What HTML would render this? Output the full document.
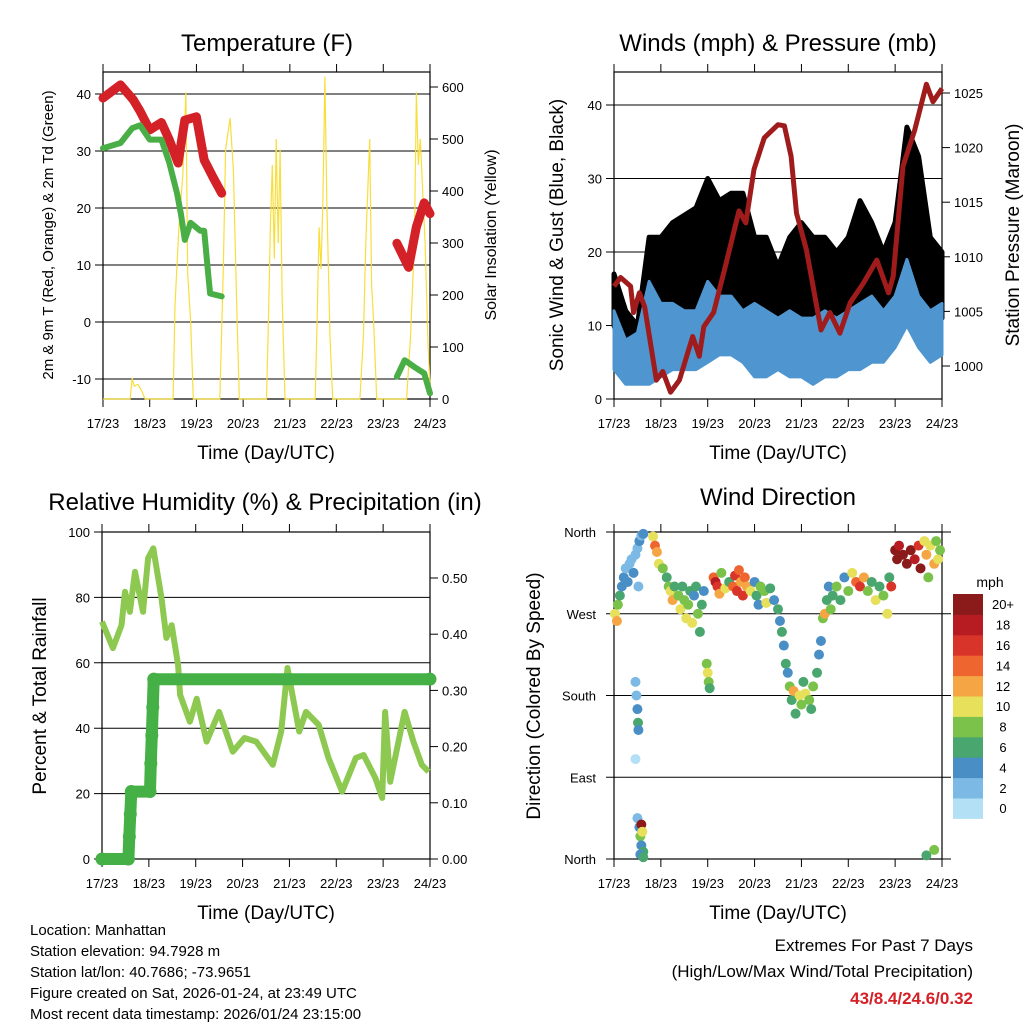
<!DOCTYPE html>
<html><head><meta charset="utf-8"><style>
html,body{margin:0;padding:0;background:#fff;}
svg{display:block;font-family:"Liberation Sans",Arial,sans-serif;}
</style></head><body>
<svg id="c" width="1024" height="1024" viewBox="0 0 1024 1024" xmlns="http://www.w3.org/2000/svg">
<rect width="1024" height="1024" fill="#fff"/>
<g id="layer"></g>
<text x="267" y="51" font-size="24" text-anchor="middle">Temperature (F)</text>
<text x="778" y="51" font-size="24" text-anchor="middle">Winds (mph) &amp; Pressure (mb)</text>
<text x="265" y="510" font-size="24" text-anchor="middle">Relative Humidity (%) &amp; Precipitation (in)</text>
<text x="778" y="505" font-size="24" text-anchor="middle">Wind Direction</text>
<text x="266" y="459" font-size="19" text-anchor="middle">Time (Day/UTC)</text>
<text x="778" y="459" font-size="19" text-anchor="middle">Time (Day/UTC)</text>
<text x="266" y="919" font-size="19" text-anchor="middle">Time (Day/UTC)</text>
<text x="778" y="919" font-size="19" text-anchor="middle">Time (Day/UTC)</text>
<text transform="translate(53,235) rotate(-90)" font-size="15" text-anchor="middle">2m &amp; 9m T (Red, Orange) &amp; 2m Td (Green)</text>
<text transform="translate(496,235) rotate(-90)" font-size="16" text-anchor="middle">Solar Insolation (Yellow)</text>
<text transform="translate(563,235) rotate(-90)" font-size="19" text-anchor="middle">Sonic Wind &amp; Gust (Blue, Black)</text>
<text transform="translate(1019,235) rotate(-90)" font-size="19" text-anchor="middle">Station Pressure (Maroon)</text>
<text transform="translate(46,696) rotate(-90)" font-size="19" text-anchor="middle">Percent &amp; Total Rainfall</text>
<text transform="translate(540,696) rotate(-90)" font-size="19" text-anchor="middle">Direction (Colored By Speed)</text>
<text x="990" y="587" font-size="14" text-anchor="middle">mph</text>
<g font-size="15">
<text x="30" y="935">Location: Manhattan</text>
<text x="30" y="956">Station elevation: 94.7928 m</text>
<text x="30" y="977">Station lat/lon: 40.7686; -73.9651</text>
<text x="30" y="998">Figure created on Sat, 2026-01-24, at 23:49 UTC</text>
<text x="30" y="1019">Most recent data timestamp: 2026/01/24 23:15:00</text>
</g>
<g font-size="17" text-anchor="end">
<text x="973" y="951">Extremes For Past 7 Days</text>
<text x="973" y="977">(High/Low/Max Wind/Total Precipitation)</text>
<text x="973" y="1004" fill="#d42027" font-weight="bold">43/8.4/24.6/0.32</text>
</g>
</svg>
<script>
const dayLabels=["17/23","18/23","19/23","20/23","21/23","22/23","23/23","24/23"];
const tempHours=[0,9,15.5,19,24,30,34,38.6,42,48,52,56.5,61,null,151,157,161,165,168];
const tempF=[39.3,41.6,39,37,33.7,35,32,27.9,35.4,36,28.4,25.4,22.6,null,13.8,9.6,16.7,20.9,19];
const dewHours=[0,9,15,19,24,30,34,38,40,42,45,50,52,54,55,61,null,151,155,160,165,168];
const dewF=[30.5,31.4,34,34.5,32,32,28,22.6,19,14.4,17.4,16,16,8.6,5,4.5,null,-9.6,-6.7,-7.9,-9,-12.5];
const solarHours=[0,12,13.9,15,16,18,20,21.6,23,34,36,37,39,41,42.6,43.5,45,46.4,48,59,60,61.8,63,65.3,67,68.7,70,82,84,85,86,87,88,89,90,91,92,93.5,95,107,109,110,111,112,113,114,115,116.6,118,131,132,133.8,135,137,138,139,140.6,142,155,156,158,160,161,162,163,165.5,167,168];
const solarW=[0,0,0,40,25,28,15,0,0,0,0,180,330,430,590,240,150,0,0,0,0,250,480,540,440,180,0,0,0,150,330,450,270,500,300,480,200,0,0,0,0,150,330,250,380,620,380,120,0,0,0,120,300,500,220,150,0,0,0,0,120,300,590,450,500,300,100,30,0];
const presHours=[0,3.4,8.5,10,13,15.7,21.7,25,29,33.5,40.3,43.7,46,51,57,64,67.5,71.7,77,84,87.3,90.7,93.5,98.6,106,110.6,115.7,121,127.8,134.6,140.6,143,148,154,160,163.4,168];
const presMb=[1007.3,1008.1,1007.3,1004.9,1006.7,1005.4,998.7,999.5,997.6,998.7,1002.7,1000.9,1003.6,1004.9,1009.1,1014.2,1013.1,1018,1020.9,1022.1,1022,1019.2,1014,1010.6,1003.3,1004.9,1003,1005.8,1007.6,1009.7,1006.7,1008.2,1018.3,1021.6,1025.8,1024.2,1025.4];
const bandHours=[0,6,12,18,24,30,36,42,48,54,60,66,72,78,84,90,96,102,108,114,120,126,132,138,144,150,156,162,168];
const windLow=[4,2,2,2,3,4,4,4,5,6,6,5,3,3,4,3,3,2,3,3,4,4,5,5,7,10,7,5,6];
const windHigh=[12,8,9,16,13,13,12,12,16,14,14,12,13,12,11,12,11,11,12,11,12,13,14,12,14,19,14,12,13];
const gustLow=[10,5,4,8,11,10,11,11,12,12,11,10,9,9,9,10,11,10,9,9,9,10,10,10,12,18,15,12,11];
const gustHigh=[17,12,10,22,22,24,25,26,30,27,28,28,22,22,18,22,24,22,22,20,22,27,24,20,24,37,33,22,20];
const rhHours=[0,5.6,10,11.8,14.3,16.9,21,23.6,26.3,30.5,33,35.7,39,40,45,48.5,53.6,60,67,73,79,87.5,91.8,95,101,104.5,111,116,123,130,134,140,143.5,145,147.6,155,159.5,163.8,167.3];
const rhPct=[72.6,64.5,71.5,81.7,75.6,87.8,75.6,92,95,79.8,67.6,71.5,59.3,50.2,42,49,35.9,45,32.8,37,35.9,28.8,39,58.4,39,45,41,30.9,20.6,30.9,31.8,24.8,18.7,45,23.6,45,35.9,28.8,26.7];
const rainHours=[0,13.5,14,14.5,15,24.6,25,25.5,26,26.5,168];
const rainIn=[0,0,0.04,0.08,0.12,0.12,0.17,0.22,0.27,0.32,0.32];
const dirHours=[0.5,1.5,2,3,4,5,6,7,8,9,10,11,12,12.5,13,14,15,11,11.5,12,12.3,12.5,11,12,13,13.5,14,14.5,14,15,13.5,15,20,21,22,23,25,27,28,29,30,31,33,34,35,36,37,38,39,40,41,42,43,44,45,46,47.5,48,48.5,49,51,52,53,54,55,57,59,61,62,63,64,65,66,67,68,70,72,73,74,75,77,78,80,82,84,85,86,87,88,89,90,91,92,93,95,96,97,98,100,101,102,104,105,106,107,108,109,110,111,112,114,116,118,120,122,124,126,128,130,132,134,136,138,140,141,142,144,145,146,148,150,152,154,156,157,159,160,161,162,164,165,166,167,160,164];
const dirDeg=[270,262,280,290,300,310,320,305,325,330,315,335,342,300,350,356,358,195,180,165,150,142,110,45,35,25,38,30,15,8,5,2,355,345,338,325,320,310,300,295,285,300,290,275,300,285,265,280,295,260,290,300,270,250,280,295,215,205,195,188,310,305,300,292,315,298,305,300,312,295,318,305,290,310,300,295,305,290,280,300,295,282,298,285,275,262,250,235,215,205,190,175,185,160,180,170,195,182,175,165,190,205,225,240,265,270,285,300,275,290,300,285,310,295,315,305,300,310,295,305,285,300,290,270,310,300,340,330,345,335,325,340,330,345,320,350,335,310,345,325,350,330,340,4,10];
const dirSpd=[10,12,8,6,4,4,3,4,2,3,4,2,2,2,4,3,4,2,3,4,6,4,1,2,4,8,20,10,4,6,4,6,10,14,12,10,8,6,8,10,12,6,8,10,6,8,10,8,6,10,4,6,8,6,6,4,8,10,8,6,14,18,16,12,8,10,6,14,16,16,14,12,16,14,12,10,4,6,4,8,8,10,6,4,6,4,6,4,6,4,8,6,12,6,10,8,6,10,8,6,8,6,4,4,8,12,6,4,8,6,8,6,4,8,10,14,16,12,8,6,10,6,8,10,6,16,20,22,18,22,20,22,18,16,20,10,12,8,10,12,8,10,8,6,8];
const speedColors=["#b4e0f6","#7cb9e4","#4a8ec6","#48a66e","#7bc24a","#e7e05a","#f6a544","#ef6530","#d9342a","#b71c22","#8b1a1a"];
const speedLabels=["0","2","4","6","8","10","12","14","16","18","20+"];
const tempTicks=[-10,0,10,20,30,40];
const solarTicks=[0,100,200,300,400,500,600];
const windTicks=[0,10,20,30,40];
const presTicks=[1000,1005,1010,1015,1020,1025];
const rhTicks=[0,20,40,60,80,100];
const rainTicks=[0,0.1,0.2,0.3,0.4,0.5];
const dirTicks=[0,90,180,270,360];
const dirNames=["North","East","South","West","North"];

const NS="http://www.w3.org/2000/svg";
const layer=document.getElementById('layer');
function mk(tag,attrs,parent){const e=document.createElementNS(NS,tag);for(const k in attrs)e.setAttribute(k,attrs[k]);(parent||layer).appendChild(e);return e;}
function lin(d0,d1,r0,r1){return v=>r0+(v-d0)*(r1-r0)/(d1-d0);}

function panel(name,L,R,T,B){
  const xs=lin(0,168,L,R);
  const g=mk('g',{});
  
  
  dayLabels.forEach((lab,i)=>{
    const x=xs(i*24);
    const t1=mk('line',{x1:x,x2:x,y1:B,y2:B+8,stroke:'#000','stroke-width':1},g);
    
    
    const t2=mk('line',{x1:x,x2:x,y1:T-8,y2:T,stroke:'#000','stroke-width':1},g);
    
    
    const tx=mk('text',{x:x,y:B+29,'font-size':13,'text-anchor':'middle'},g);
    tx.textContent=lab;
    
    
  });
  return {xs,g};
}
function frame(g,L,R,T,B){
  const r=mk('rect',{x:L,y:T,width:R-L,height:B-T,fill:'none',stroke:'#000','stroke-width':1.2},g);
  
  
}
function hgrid(g,vals,ys,L,R,labelFn){
  vals.forEach(v=>{
    const y=ys(v);
    const l=mk('line',{x1:L-8,x2:R,y1:y,y2:y,stroke:'#000','stroke-width':1},g);
    
    
    if(labelFn){const t=mk('text',{x:L-12,y:y+5,'font-size':13,'text-anchor':'end'},g);t.textContent=labelFn(v);
      
      }
  });
}
function rticks(g,vals,ys,R,fmt){
  vals.forEach(v=>{
    const y=ys(v);
    const l=mk('line',{x1:R,x2:R+8,y1:y,y2:y,stroke:'#000','stroke-width':1},g);
    
    
    const t=mk('text',{x:R+12,y:y+5,'font-size':13},g);t.textContent=fmt(v);
    
    
  });
}
function pathFrom(hs,vs,xs,ys){
  let d='',pen=false;
  for(let i=0;i<hs.length;i++){
    if(hs[i]===null||vs[i]===null){pen=false;continue;}
    d+=(pen?'L':'M')+xs(hs[i]).toFixed(1)+','+ys(vs[i]).toFixed(1);pen=true;
  }
  return d;
}
function bandPath(hs,lo,hi,xs,ys){
  let d='M'+xs(hs[0])+','+ys(hi[0]);
  for(let i=1;i<hs.length;i++)d+='L'+xs(hs[i]).toFixed(1)+','+ys(hi[i]).toFixed(1);
  for(let i=hs.length-1;i>=0;i--)d+='L'+xs(hs[i]).toFixed(1)+','+ys(lo[i]).toFixed(1);
  return d+'Z';
}

// Panel 1: temperature
{
  const L=103,R=430,T=72,B=399;
  const {xs,g}=panel('temperature',L,R,T,B);
  const yT=lin(0,40,322,94), yS=lin(0,600,399,87);
  hgrid(g,tempTicks,yT,L,R,v=>v);
  rticks(g,solarTicks,yS,R,v=>v);
  const s=mk('path',{d:pathFrom(solarHours,solarW,xs,yS),fill:'none',stroke:'#f8de3c','stroke-width':1.2});
  
  
  const t=mk('path',{d:pathFrom(tempHours,tempF,xs,yT),fill:'none',stroke:'#d42027','stroke-width':9,'stroke-linejoin':'round','stroke-linecap':'round'});
  
  
  const d=mk('path',{d:pathFrom(dewHours,dewF,xs,yT),fill:'none',stroke:'#4aae46','stroke-width':6,'stroke-linejoin':'round','stroke-linecap':'round'});
  
  
  frame(g,L,R,T,B);
}
// Panel 2: winds
{
  const L=614,R=942,T=72,B=399;
  const {xs,g}=panel('winds',L,R,T,B);
  const yW=lin(0,40,399,105), yP=lin(1000,1025,366,93);
  hgrid(g,windTicks,yW,L,R,v=>v);
  rticks(g,presTicks,yP,R,v=>v);
  const gb=mk('path',{d:bandPath(bandHours,gustLow,gustHigh,xs,yW),fill:'#000',stroke:'#000','stroke-width':5,'stroke-linejoin':'round'});
  
  
  const wb=mk('path',{d:bandPath(bandHours,windLow,windHigh,xs,yW),fill:'#4f96d0',stroke:'#4f96d0','stroke-width':3,'stroke-linejoin':'round'});
  
  
  const p=mk('path',{d:pathFrom(presHours,presMb,xs,yP),fill:'none',stroke:'#a01c1c','stroke-width':5,'stroke-linejoin':'round'});
  
  
  frame(g,L,R,T,B);
}
// Panel 3: RH & rain
{
  const L=102,R=430,T=532,B=859;
  const {xs,g}=panel('humidity',L,R,T,B);
  const yH=lin(0,100,859,532), yR=lin(0,0.5,859,578);
  hgrid(g,rhTicks,yH,L,R,v=>v);
  rticks(g,rainTicks,yR,R,v=>v.toFixed(2));
  const h=mk('path',{d:pathFrom(rhHours,rhPct,xs,yH),fill:'none',stroke:'#8dc850','stroke-width':6,'stroke-linejoin':'round'});
  
  
  const r=mk('path',{d:pathFrom(rainHours,rainIn,xs,yR),fill:'none',stroke:'#45b045','stroke-width':12,'stroke-linejoin':'round','stroke-linecap':'round'});
  
  
  rainHours.forEach((hh,i)=>{
    const c=mk('circle',{cx:xs(hh),cy:yR(rainIn[i]),r:6.5,fill:'#45b045'});
    
    
  });
  frame(g,L,R,T,B);
}
// Panel 4: wind direction
{
  const L=614,R=942,T=532,B=859;
  const {xs,g}=panel('direction',L,R,T,B);
  const yD=lin(0,360,859,532);
  dirTicks.forEach((v,i)=>{
    const y=yD(v);
    const l=mk('line',{x1:L-8,x2:R+9,y1:y,y2:y,stroke:'#000','stroke-width':1},g);
    
    
    const t=mk('text',{x:L-18,y:y+5,'font-size':13,'text-anchor':'end'},g);t.textContent=dirNames[i];
    
    
  });
  dirHours.forEach((hh,i)=>{
    const bin=Math.min(10,Math.floor(dirSpd[i]/2));
    const c=mk('circle',{cx:xs(hh),cy:yD(dirDeg[i]),r:5,fill:speedColors[bin]});
    
    
  });
  frame(g,L,R,T,B);
  const cb=mk('g',{});
  
  
  const h=20.4;
  speedColors.forEach((col,i)=>{
    const y=594+(10-i)*h;
    const r=mk('rect',{x:953,y:y,width:30,height:h+0.5,fill:col},cb);
    
    
    const t=mk('text',{x:1003,y:y+h/2+5,'font-size':13,'text-anchor':'middle'},cb);t.textContent=speedLabels[i];
    
    
  });
}
</script>
</body></html>
